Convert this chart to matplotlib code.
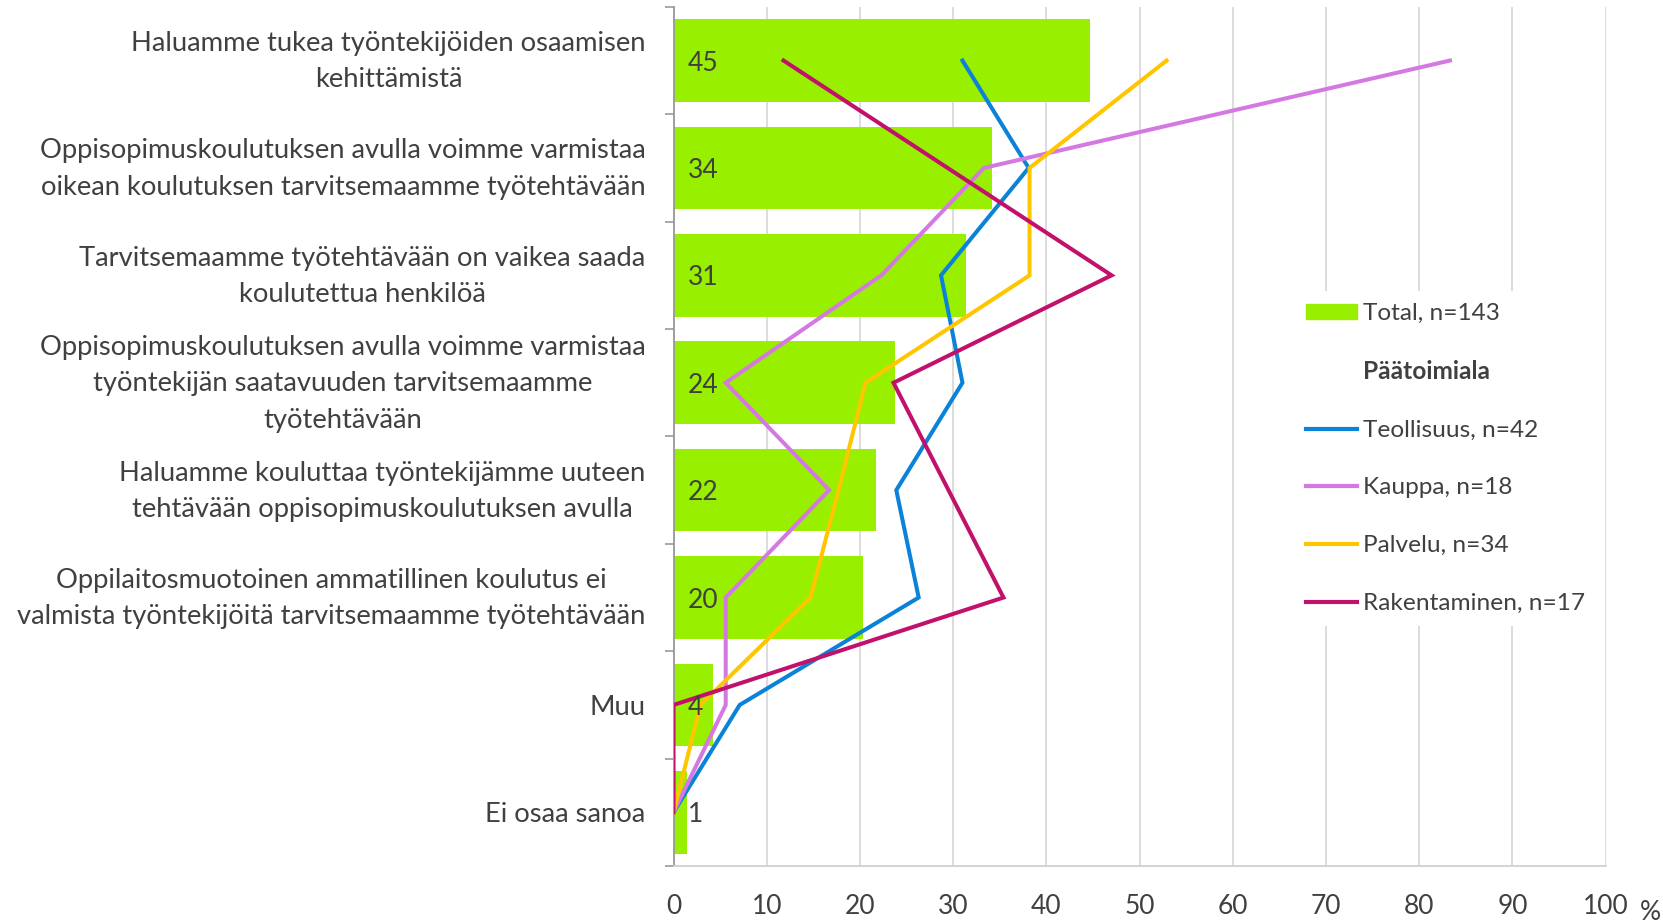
import matplotlib
matplotlib.use("Agg")
import matplotlib.pyplot as plt
import matplotlib.transforms as mtransforms
from matplotlib.patches import Patch
from matplotlib.lines import Line2D
import numpy as np

plt.rcParams['font.family'] = ['Lato', 'DejaVu Sans']

categories = [
    "Haluamme tukea työntekijöiden osaamisen\nkehittämistä",
    "Oppisopimuskoulutuksen avulla voimme varmistaa\noikean koulutuksen tarvitsemaamme työtehtävään",
    "Tarvitsemaamme työtehtävään on vaikea saada\nkoulutettua henkilöä",
    "Oppisopimuskoulutuksen avulla voimme varmistaa\ntyöntekijän saatavuuden tarvitsemaamme\ntyötehtävään",
    "Haluamme kouluttaa työntekijämme uuteen\ntehtävään oppisopimuskoulutuksen avulla",
    "Oppilaitosmuotoinen ammatillinen koulutus ei\nvalmista työntekijöitä tarvitsemaamme työtehtävään",
    "Muu",
    "Ei osaa sanoa",
]
total = [44.7, 34.2, 31.4, 23.8, 21.7, 20.3, 4.2, 1.4]
total_labels = ["45", "34", "31", "24", "22", "20", "4", "1"]
teollisuus = [31.0, 38.1, 28.7, 31.0, 23.9, 26.3, 7.1, 0.0]
kauppa = [83.3, 33.3, 22.3, 5.6, 16.7, 5.6, 5.6, 0.0]
palvelu = [52.9, 38.2, 38.2, 20.6, 17.7, 14.7, 2.9, 0.0]
rakentaminen = [11.8, 29.4, 47.0, 23.6, 29.5, 35.4, 0.0, 0.0]

series = [
    ("Teollisuus, n=42", teollisuus, "#0A82D9"),
    ("Kauppa, n=18", kauppa, "#D479E2"),
    ("Palvelu, n=34", palvelu, "#FFC600"),
    ("Rakentaminen, n=17", rakentaminen, "#C2116C"),
]
bar_color = "#99EF00"
text_color = "#404040"
fs = 19
fs_cat = 19.7
fs_leg = 17.6

fig = plt.figure(figsize=(16.63, 9.23), dpi=100)
ax = fig.add_axes([0.405, 0.0617, 0.5605, 0.9309])

y = np.arange(len(categories))
ax.barh(y, total, height=0.77, color=bar_color, zorder=2)
for yi, lab in zip(y, total_labels):
    ax.text(1.5, yi, lab, ha='left', va='center_baseline', fontsize=fs, color=text_color, zorder=4)

for name, vals, col in series:
    ax.plot(vals, y, color=col, lw=2.9, zorder=3, solid_joinstyle='miter')

ax.set_xlim(0, 100)
ax.set_ylim(len(categories) - 0.5, -0.5)
ax.set_xticks(np.arange(0, 101, 10))
ax.tick_params(axis='x', length=0, pad=20, labelsize=fs, labelcolor=text_color)
ax.set_yticks(y)
ax.set_yticklabels(categories)
ax.tick_params(axis='y', which='major', length=0, pad=20, labelsize=fs_cat, labelcolor=text_color)
shift = mtransforms.ScaledTranslation(0, 5.0 / 72, fig.dpi_scale_trans)
for lbl in ax.get_yticklabels():
    lbl.set_multialignment('center')
    if "\n" in lbl.get_text():
        lbl.set_linespacing(1.56)
        lbl.set_transform(lbl.get_transform() + shift)
ax.set_yticks(np.arange(-0.5, len(categories), 1.0), minor=True)
ax.tick_params(axis='y', which='minor', length=6.5, width=1.2, color="#999999")

ax.grid(axis='x', color="#D9D9D9", lw=1.3, zorder=0)
ax.set_axisbelow(True)
for s in ['top', 'right']:
    ax.spines[s].set_visible(False)
ax.spines['left'].set_color("#999999")
ax.spines['left'].set_linewidth(1.3)
ax.spines['bottom'].set_color("#D0D0D0")
ax.spines['bottom'].set_linewidth(1.3)

fig.text(0.9925, 0.011, "%", fontsize=fs, color=text_color, ha='center', va='center')

handles = [Patch(color=bar_color), Line2D([], [], alpha=0)]
labels = ["Total, n=143", "Päätoimiala"]
for name, vals, col in series:
    handles.append(Line2D([], [], color=col, lw=3.0))
    labels.append(name)
leg = ax.legend(handles, labels, loc='upper left', bbox_to_anchor=(0.652, 0.684),
                fontsize=fs_leg, frameon=True, facecolor='white', edgecolor='none',
                framealpha=1, fancybox=False, handlelength=2.1, handleheight=0.55,
                handletextpad=0.25, labelspacing=1.495, borderpad=0.5)
leg.set_zorder(5)
for t in leg.get_texts():
    t.set_color(text_color)
leg.get_texts()[1].set_fontweight('bold')

fig.savefig("out.png", dpi=100)
